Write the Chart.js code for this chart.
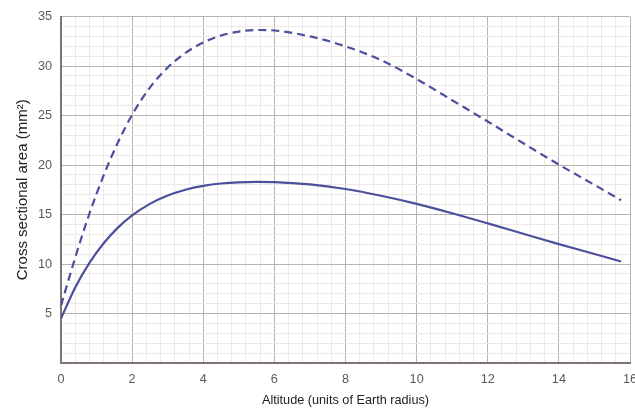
<!DOCTYPE html>
<html>
<head>
<meta charset="utf-8">
<script src="https://cdn.jsdelivr.net/npm/chart.js@4"></script>
<style>
  html, body { margin: 0; padding: 0; background: #ffffff; }
  #wrap { width: 635px; height: 409px; }
</style>
</head>
<body>
<div id="wrap"><canvas id="c" width="635" height="409"></canvas></div>
<script>
// Altitude (units of Earth radius)
const altitude = [0, 0.4, 0.8, 1.2, 1.6, 2, 2.5, 3, 3.5, 4, 4.5, 5, 5.5, 6, 7, 8, 9, 10, 11, 12, 13, 14, 15, 15.75];
// Solid curve: cross sectional area (mm²)
const solidArea = [4.5, 7.64, 10.12, 12.1, 13.68, 14.92, 16.08, 16.92, 17.51, 17.9, 18.14, 18.26, 18.3, 18.28, 18.05, 17.58, 16.9, 16.08, 15.13, 14.11, 13.06, 12.01, 11.01, 10.25];
// Dashed curve: cross sectional area (mm²)
const dashedArea = [5.8, 10.66, 15.1, 18.96, 22.28, 25.08, 27.83, 29.86, 31.33, 32.39, 33.09, 33.49, 33.65, 33.6, 33.0, 32.0, 30.6, 28.7, 26.55, 24.4, 22.2, 20.05, 18.0, 16.45];

const xMajorTicks = [0, 2, 4, 6, 8, 10, 12, 14, 16];
const yTickLabels = [5, 10, 15, 20, 25, 30, 35];
const xMinorStep = 0.4;
const yMinorStep = 1;

const near = (v, arr) => arr.some(a => Math.abs(a - v) < 1e-6);

const lineColor = '#4b4f9c';
const majorGrid = '#bbb1ae';
const minorGrid = '#eee8e8';
const axisColor = '#7e7572';
const tickColor = '#5a5a5a';
const titleColor = '#222222';
const fontFamily = '"Liberation Sans", Arial, Helvetica, sans-serif';

new Chart(document.getElementById('c'), {
  type: 'line',
  data: {
    datasets: [
      {
        label: 'solid',
        data: altitude.map((x, i) => ({ x: x, y: solidArea[i] })),
        borderColor: lineColor,
        borderWidth: 2.2,
        pointRadius: 0,
        fill: false,
        cubicInterpolationMode: 'monotone'
      },
      {
        label: 'dashed',
        data: altitude.map((x, i) => ({ x: x, y: dashedArea[i] })),
        borderColor: lineColor,
        borderWidth: 2.2,
        borderDash: [8, 5],
        pointRadius: 0,
        fill: false,
        cubicInterpolationMode: 'monotone'
      }
    ]
  },
  options: {
    responsive: false,
    animation: false,
    events: [],
    layout: { padding: { left: 0, top: 16, right: 5, bottom: 0 } },
    plugins: { legend: { display: false }, tooltip: { enabled: false } },
    scales: {
      x: {
        type: 'linear',
        min: 0,
        max: 16,
        afterFit: (s) => { s.height = 46; s.paddingRight = 0; s.paddingLeft = 0; },
        ticks: {
          stepSize: xMinorStep,
          autoSkip: false,
          maxRotation: 0,
          padding: 9,
          color: tickColor,
          font: { family: fontFamily, size: 12.7 },
          callback: (v) => near(v, xMajorTicks) ? String(Math.round(v)) : ''
        },
        grid: {
          drawTicks: false,
          lineWidth: 1,
          color: (ctx) => (ctx.tick && near(ctx.tick.value, xMajorTicks)) ? majorGrid : minorGrid
        },
        border: { display: true, color: axisColor, width: 2 },
        title: {
          display: true,
          text: 'Altitude (units of Earth radius)',
          color: titleColor,
          font: { family: fontFamily, size: 12.7 },
          padding: { top: 0, bottom: 1 }
        }
      },
      y: {
        type: 'linear',
        min: 0,
        max: 35,
        afterFit: (s) => { s.width = 61; },
        ticks: {
          stepSize: yMinorStep,
          autoSkip: false,
          padding: 9,
          color: tickColor,
          font: { family: fontFamily, size: 12.7 },
          callback: (v) => near(v, yTickLabels) ? String(Math.round(v)) : ''
        },
        grid: {
          drawTicks: false,
          lineWidth: 1,
          color: (ctx) => (ctx.tick && ctx.tick.value % 5 === 0) ? majorGrid : minorGrid
        },
        border: { display: true, color: axisColor, width: 2 },
        title: {
          display: true,
          text: 'Cross sectional area (mm²)',
          color: titleColor,
          font: { family: fontFamily, size: 15 },
          padding: { top: 14, bottom: 0 }
        }
      }
    }
  }
});
</script>
</body>
</html>
